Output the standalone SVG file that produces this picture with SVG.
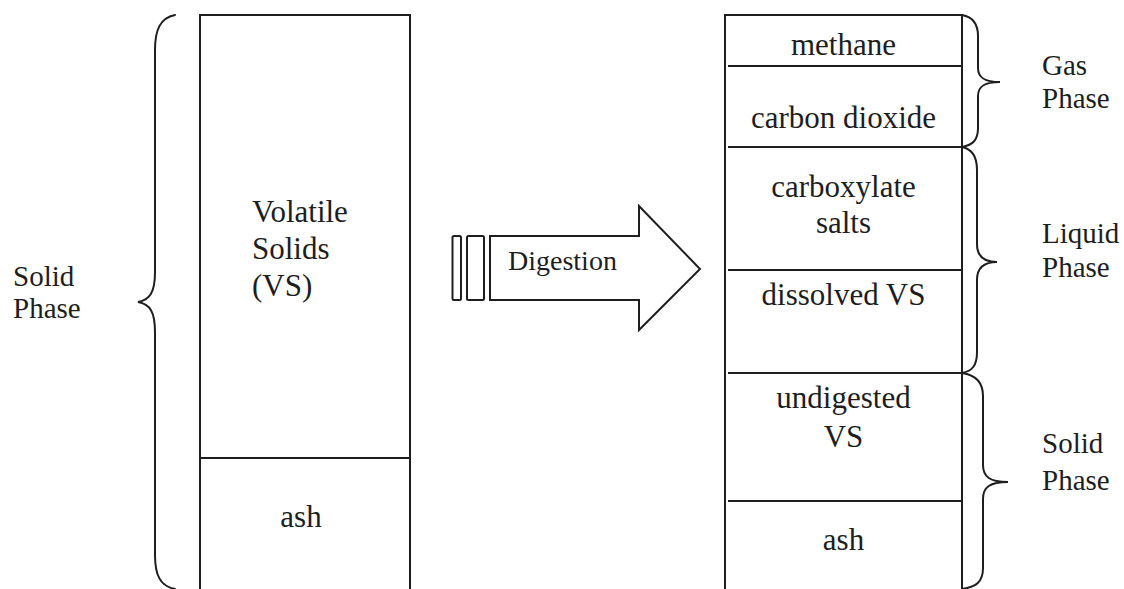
<svg xmlns="http://www.w3.org/2000/svg" width="1124" height="589" viewBox="0 0 1124 589">
  <style>
    .ln { fill: none; stroke: #1e1e1e; stroke-width: 2; }
    .br { fill: none; stroke: #1e1e1e; stroke-width: 2; stroke-linecap: round; }
    .box { font-family: "Liberation Serif", "Times New Roman", serif; font-size: 31px; fill: #1e1e1e; text-anchor: middle; }
    .lbl { font-family: "Liberation Serif", "Times New Roman", serif; font-size: 29px; fill: #1e1e1e; }
  </style>
  <rect width="1124" height="589" fill="#ffffff"/>

  <!-- feedstock column -->
  <g id="feed-column">
    <path class="ln" d="M200,590 V15 H410 V590"/>
    <line class="ln" x1="200" y1="458" x2="410" y2="458"/>
  </g>
  <g id="feed-vs">
    <text class="box" x="252" y="222" style="text-anchor:start">Volatile</text>
    <text class="box" x="252" y="259" style="text-anchor:start">Solids</text>
    <text class="box" x="252" y="296" style="text-anchor:start">(VS)</text>
  </g>
  <g id="feed-ash">
    <text class="box" x="301" y="527">ash</text>
  </g>

  <!-- left brace and label -->
  <g id="feed-solid-phase">
    <path class="br" d="M175,15 C160,18 155,30 155,50 L155,272 C155,292 150,300 138,302 C150,304 155,312 155,332 L155,555 C155,575 160,586 175,589"/>
    <text class="lbl" x="13" y="286">Solid</text>
    <text class="lbl" x="13" y="318">Phase</text>
  </g>

  <!-- digestion arrow -->
  <g id="digestion">
    <rect class="ln" x="452.5" y="236" width="8.5" height="64" rx="1.5"/>
    <rect class="ln" x="467" y="236" width="17" height="64" rx="1.5"/>
    <path class="ln" stroke-linejoin="miter" d="M490,236 H639 V206 L700,269 L639,330 V300 H490 Z"/>
    <text class="lbl" x="508" y="270" style="font-size:28px">Digestion</text>
  </g>

  <!-- digested column -->
  <g id="out-column">
    <path class="ln" d="M725,590 V15 H962 V590"/>
    <line class="ln" x1="728" y1="66" x2="962" y2="66"/>
    <line class="ln" x1="728" y1="147" x2="962" y2="147"/>
    <line class="ln" x1="728" y1="270" x2="962" y2="270"/>
    <line class="ln" x1="728" y1="373" x2="962" y2="373"/>
    <line class="ln" x1="728" y1="501" x2="962" y2="501"/>
  </g>
  <g id="out-methane"><text class="box" x="843.5" y="55">methane</text></g>
  <g id="out-co2"><text class="box" x="843.5" y="128">carbon dioxide</text></g>
  <g id="out-carboxylate">
    <text class="box" x="843.5" y="197">carboxylate</text>
    <text class="box" x="843.5" y="233">salts</text>
  </g>
  <g id="out-dissolved"><text class="box" x="843.5" y="305">dissolved VS</text></g>
  <g id="out-undigested">
    <text class="box" x="843.5" y="408">undigested</text>
    <text class="box" x="843.5" y="447">VS</text>
  </g>
  <g id="out-ash"><text class="box" x="843.5" y="550">ash</text></g>

  <!-- phase braces -->
  <g id="gas-phase">
    <path class="br" d="M962,15 C973,17 978,24 978,36 L978,68 C978,78 985,82 1000,82 C985,82 978,86 978,96 L978,128 C978,140 973,145 962,147"/>
    <text class="lbl" x="1042" y="75">Gas</text>
    <text class="lbl" x="1042" y="108">Phase</text>
  </g>
  <g id="liquid-phase">
    <path class="br" d="M962,147 C972,149 977,156 977,170 L977,244 C977,256 983,262 997,262 C983,262 977,268 977,280 L977,352 C977,366 972,371 962,373"/>
    <text class="lbl" x="1042" y="243">Liquid</text>
    <text class="lbl" x="1042" y="277">Phase</text>
  </g>
  <g id="solid-phase">
    <path class="br" d="M962,373 C976,375 983,382 983,396 L983,465 C983,477 990,482 1008,482 C990,482 983,487 983,499 L983,568 C983,582 976,587 962,589"/>
    <text class="lbl" x="1042" y="453">Solid</text>
    <text class="lbl" x="1042" y="490">Phase</text>
  </g>
</svg>
